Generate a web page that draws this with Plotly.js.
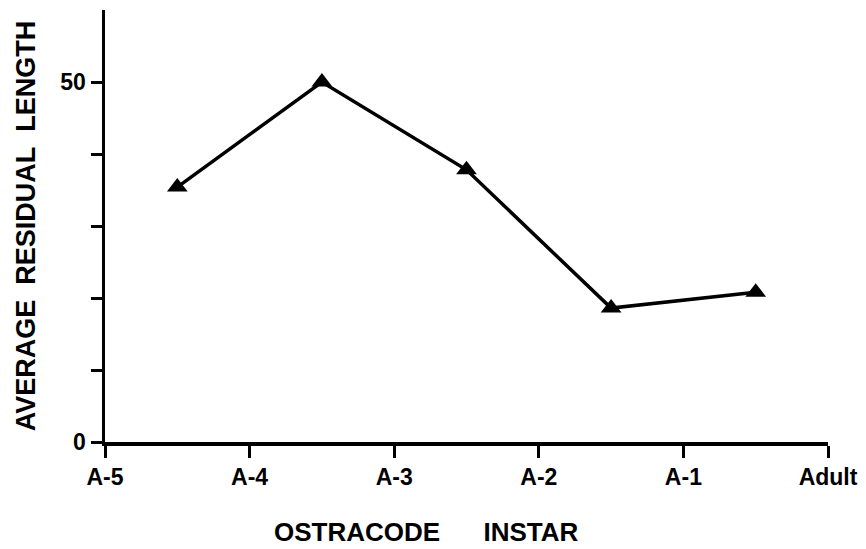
<!DOCTYPE html>
<html>
<head>
<meta charset="utf-8">
<script src="https://cdn.plot.ly/plotly-3.0.1.min.js"></script>
<style>html,body{margin:0;padding:0;background:#fff;}#chart{width:866px;height:549px;}</style>
</head>
<body>
<div id="chart"></div>
<script>
// Data
const instarPositions = [0.5, 1.5, 2.5, 3.5, 4.5];
const avgResidualLength = [35.4, 50.0, 37.8, 18.6, 20.8];
const xTickVals = [0, 1, 2, 3, 4, 5];
const xTickText = ['A-5', 'A-4', 'A-3', 'A-2', 'A-1', 'Adult'];
const yTickVals = [0, 10, 20, 30, 40, 50];
const yTickText = ['0', '', '', '', '', '50'];

const NB = '\u00A0';
const trace = {
  x: instarPositions,
  y: avgResidualLength,
  type: 'scatter',
  mode: 'lines+markers',
  line: {color: '#000', width: 3.5},
  marker: {symbol: 'triangle-up', size: 18, color: '#000'},
  cliponaxis: false,
  hoverinfo: 'skip'
};

const font = {family: 'Liberation Sans, Arial, sans-serif', color: '#000'};
const layout = {
  width: 866, height: 549,
  margin: {l: 105, r: 38, t: 10, b: 107},
  paper_bgcolor: '#fff', plot_bgcolor: '#fff',
  showlegend: false,
  font: font,
  xaxis: {
    range: [0, 5],
    tickvals: xTickVals, ticktext: xTickText,
    ticks: 'outside', ticklen: 12, tickwidth: 3, tickcolor: '#000',
    showline: true, linewidth: 3.5, linecolor: '#000',
    showgrid: false, zeroline: false,
    tickfont: {family: font.family, size: 23, color: '#000', weight: 'bold'}
  },
  yaxis: {
    range: [0, 60],
    tickvals: yTickVals, ticktext: yTickText,
    ticks: 'outside', ticklen: 11, tickwidth: 3, tickcolor: '#000',
    showline: true, linewidth: 3.5, linecolor: '#000',
    showgrid: false, zeroline: false,
    tickfont: {family: font.family, size: 23, color: '#000', weight: 'bold'},
    title: {text: 'AVERAGE' + NB + ' RESIDUAL' + NB + ' LENGTH', standoff: 18,
            font: {family: font.family, size: 27, color: '#000', weight: 'bold'}}
  },
  annotations: [{
    text: 'OSTRACODE' + NB.repeat(6) + 'INSTAR',
    xref: 'paper', yref: 'paper', x: 0.445, y: -0.208,
    xanchor: 'center', yanchor: 'middle', showarrow: false, borderpad: 0,
    font: {family: font.family, size: 26, color: '#000', weight: 'bold'}
  }]
};

Plotly.newPlot('chart', [trace], layout, {staticPlot: true, displayModeBar: false});
</script>
</body>
</html>
